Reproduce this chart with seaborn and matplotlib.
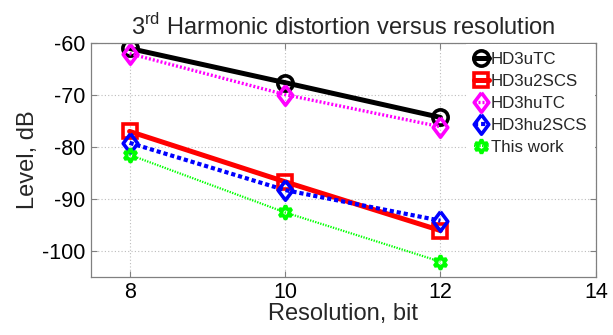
import matplotlib
matplotlib.use("Agg")
import matplotlib.pyplot as plt
import numpy as np
import pandas as pd
import seaborn as sns

# values
resolution = [8, 10, 12]
hd3u_tc = [-61.0, -67.6, -74.3]
hd3u_2scs = [-77.0, -86.7, -96.1]
hd3hu_tc = [-62.0, -69.9, -76.1]
hd3hu_2scs = [-79.2, -88.3, -94.2]
this_work = [-81.5, -92.6, -102.1]

x_ticks = [8, 10, 12, 14]
y_ticks = [-100, -90, -80, -70, -60]

sns.set_theme(style="white")
plt.rcParams["font.family"] = ["Liberation Sans", "DejaVu Sans"]
plt.rcParams["mathtext.fontset"] = "custom"
plt.rcParams["mathtext.rm"] = "Liberation Sans"
plt.rcParams["axes.unicode_minus"] = False

diamond = [(0, 1), (0.75, 0), (0, -1), (-0.75, 0), (0, 1)]

series = [
    ("HD3uTC", hd3u_tc, "black", "-", 3.6, "o", 11),
    ("HD3u2SCS", hd3u_2scs, "red", "-", 3.6, "s", 10),
    ("HD3huTC", hd3hu_tc, "#ff00ff", (0, (0.6, 0.6)), 2.4, diamond, 14),
    ("HD3hu2SCS", hd3hu_2scs, "#0000ff", (0, (1, 0.7)), 3.0, diamond, 14),
    ("This work", this_work, "#00ff00", (0, (0.6, 0.6)), 1.6, (6, 1, 0), 10),
]

fig, ax = plt.subplots(figsize=(6.13, 3.35), dpi=100)
fig.subplots_adjust(left=0.148, right=0.972, bottom=0.174, top=0.871)

for name, vals, color, ls, lw, marker, ms in series:
    df = pd.DataFrame({"res": resolution, "level": vals})
    sns.lineplot(data=df, x="res", y="level", ax=ax, color=color, linestyle=ls,
                 linewidth=lw, marker=marker, markersize=ms, markerfacecolor="none",
                 markeredgecolor=color, markeredgewidth=2.6, label=name)

ax.set_xlim(7.5, 14)
ax.set_ylim(-105, -60)
ax.set_xticks(x_ticks)
ax.set_yticks(y_ticks)
ax.grid(True, color="#bcbcbc", linestyle=(0, (1, 2)), linewidth=0.8)
for s in ax.spines.values():
    s.set_color("#808080")
    s.set_linewidth(0.9)
ax.tick_params(direction="in", length=4, width=0.8, color="#808080",
               labelsize=15.5, labelcolor="black", pad=4,
               top=True, right=True, bottom=True, left=True)

ax.set_xlabel("Resolution, bit", fontsize=17, labelpad=0)
ax.set_ylabel("Level, dB", fontsize=17, labelpad=2)
ax.set_title(r"3$^{\mathrm{rd}}$ Harmonic distortion versus resolution", fontsize=17, pad=6)

leg = ax.legend(loc="upper right", fontsize=12.2, frameon=True, fancybox=False,
                edgecolor="none", facecolor="white", framealpha=1,
                handlelength=0.9, handletextpad=0.1, labelspacing=0.42,
                borderaxespad=0.05, borderpad=0.45)

fig.savefig("out.png", dpi=100)
